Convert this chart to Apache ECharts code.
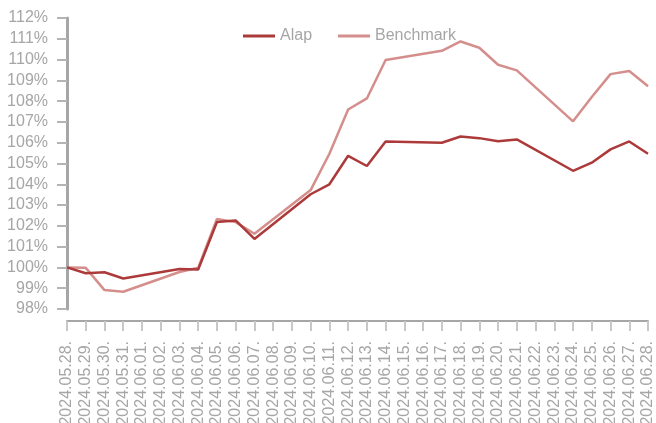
<!DOCTYPE html>
<html>
<head>
<meta charset="utf-8">
<script src="https://cdn.jsdelivr.net/npm/echarts@6/dist/echarts.min.js"></script>
<style>html,body{margin:0;padding:0;background:#fff}#c{width:656px;height:423px}</style>
</head>
<body>
<div id="c"></div>
<script>
var categories = ["2024.05.28.","2024.05.29.","2024.05.30.","2024.05.31.","2024.06.01.","2024.06.02.","2024.06.03.","2024.06.04.","2024.06.05.","2024.06.06.","2024.06.07.","2024.06.08.","2024.06.09.","2024.06.10.","2024.06.11.","2024.06.12.","2024.06.13.","2024.06.14.","2024.06.15.","2024.06.16.","2024.06.17.","2024.06.18.","2024.06.19.","2024.06.20.","2024.06.21.","2024.06.22.","2024.06.23.","2024.06.24.","2024.06.25.","2024.06.26.","2024.06.27.","2024.06.28."];
var alap = [100.0, 99.72, 99.77, 99.47, null, null, 99.92, 99.9, 102.18, 102.26, 101.37, null, null, 103.52, 104.0, 105.37, 104.88, 106.06, null, null, 106.0, 106.3, 106.22, 106.07, 106.16, null, null, 104.65, 105.04, 105.68, 106.06, 105.47];
var benchmark = [100.0, 99.98, 98.91, 98.83, null, null, 99.78, 99.98, 102.33, 102.18, 101.62, null, null, 103.72, 105.47, 107.6, 108.13, 109.98, null, null, 110.42, 110.87, 110.57, 109.75, 109.48, null, null, 107.03, 108.2, 109.3, 109.45, 108.72];
var yTicks = {min: 98, max: 112, step: 1};

var chart = echarts.init(document.getElementById('c'), null, {renderer: 'canvas'});
var font = 'Liberation Sans, Arial, sans-serif';
chart.setOption({
  animation: false,
  backgroundColor: '#ffffff',
  legend: {
    top: 23,
    left: 238,
    icon: 'rect',
    itemWidth: 32,
    itemHeight: 3,
    itemGap: 26,
    itemStyle: {borderWidth: 0},
    textStyle: {color: '#a6a6a6', fontSize: 16, fontFamily: font},
    data: ['Alap', 'Benchmark']
  },
  grid: {left: 67, right: 8, top: 18, bottom: 114, containLabel: false, outerBoundsMode: 'none'},
  xAxis: {
    type: 'category',
    data: categories,
    boundaryGap: false,
    offset: 12,
    axisLine: {lineStyle: {color: '#a6a6a6', width: 2}},
    axisTick: {show: true, length: 10, lineStyle: {color: '#c8c8c8', width: 2}, interval: 0},
    axisLabel: {rotate: 90, interval: 0, margin: 20, color: '#a6a6a6', fontSize: 16, fontFamily: font},
    splitLine: {show: false}
  },
  yAxis: {
    type: 'value',
    min: yTicks.min,
    max: yTicks.max,
    interval: yTicks.step,
    axisLine: {show: true, lineStyle: {color: '#a6a6a6', width: 3}},
    axisTick: {show: true, length: 10, lineStyle: {color: '#b4b4b4', width: 2}},
    axisLabel: {formatter: '{value}%', color: '#a6a6a6', fontSize: 16, fontFamily: font, margin: 19},
    splitLine: {show: false}
  },
  series: [
    {name: 'Alap', type: 'line', data: alap, connectNulls: true, showSymbol: false, symbol: 'none',
     lineStyle: {color: '#ad3a3a', width: 2.5}, itemStyle: {color: '#ad3a3a'}, z: 3},
    {name: 'Benchmark', type: 'line', data: benchmark, connectNulls: true, showSymbol: false, symbol: 'none',
     lineStyle: {color: '#d48e8c', width: 2.5}, itemStyle: {color: '#d48e8c'}, z: 2}
  ]
});
</script>
</body>
</html>
